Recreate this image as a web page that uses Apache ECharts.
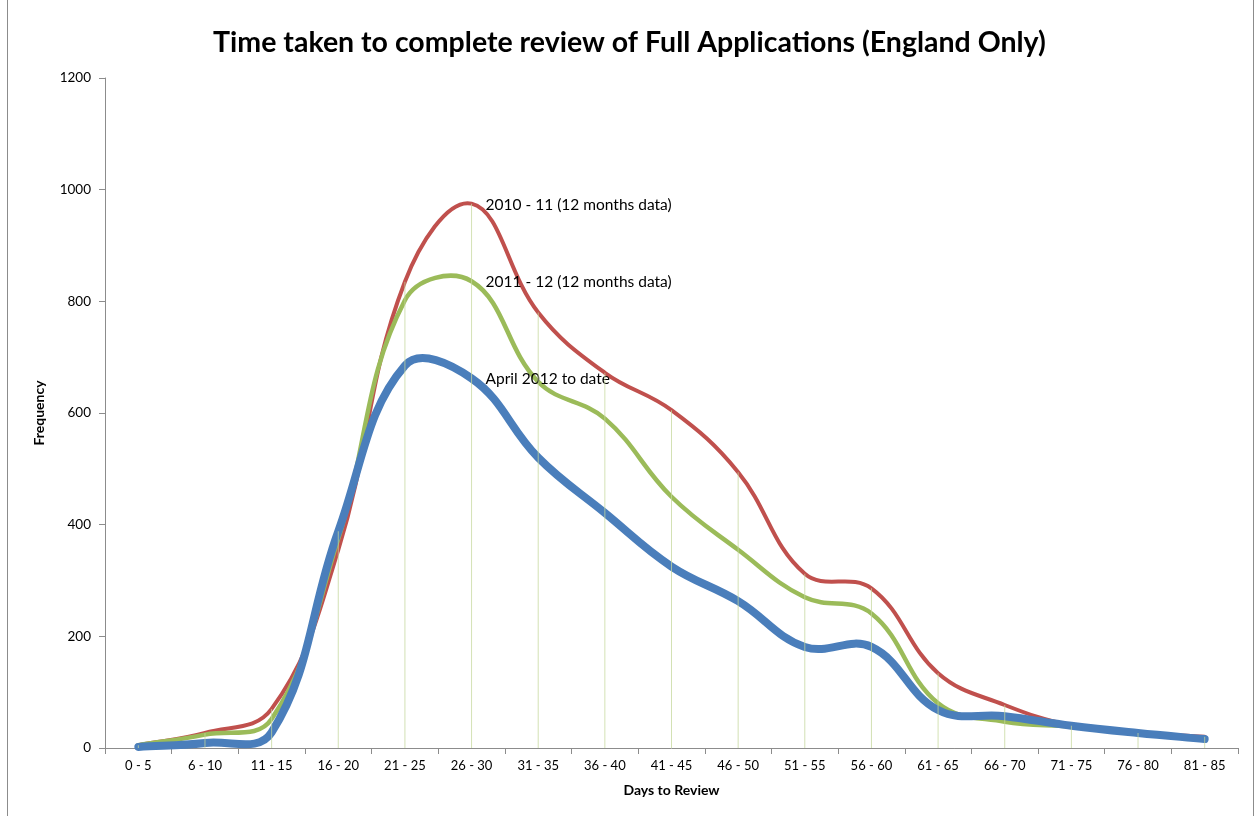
<!DOCTYPE html>
<html>
<head>
<meta charset="utf-8">
<script src="https://cdn.jsdelivr.net/npm/echarts@6/dist/echarts.min.js"></script>
<style>
  html, body { margin: 0; padding: 0; background: #ffffff; }
  #chart { width: 1259px; height: 816px; }
</style>
</head>
<body>
<div id="chart"></div>
<script>
// Review-time bands (days)
const categories = ['0 - 5', '6 - 10', '11 - 15', '16 - 20', '21 - 25', '26 - 30', '31 - 35', '36 - 40',
  '41 - 45', '46 - 50', '51 - 55', '56 - 60', '61 - 65', '66 - 70', '71 - 75', '76 - 80', '81 - 85'];

// Frequency of applications per band
const year2010 = [5, 27, 70, 355, 835, 975, 780, 672, 605, 494, 312, 286, 134, 77, 40, 27, 20];
const year2011 = [5, 24, 52, 375, 802, 836, 656, 590, 450, 355, 270, 241, 80, 47, 38, 26, 17];
const year2012 = [2, 9, 28, 388, 685, 662, 520, 421, 325, 263, 181, 181, 68, 57, 40, 27, 16];

const seriesNames = ['2010 - 11 (12 months data)', '2011 - 12 (12 months data)', 'April 2012 to date'];
const yTicks = [0, 200, 400, 600, 800, 1000, 1200];

// Index of the point that carries each series' name
const labelIndex = 5;

// Drop lines run from the highest series at each band down to the axis
const dropTop = categories.map((_, i) => Math.max(year2010[i], year2011[i], year2012[i]));

const FONT = 'Lato, "Open Sans", sans-serif';

function dist(a, b) {
  return Math.hypot(b[0] - a[0], b[1] - a[1]);
}

// Smoothed line through every point: cubic segments whose tangents are
// scaled by neighbouring chord lengths, so short steps next to steep
// climbs don't overshoot. Points come from the grid's own coordinate conversion.
function smoothSeries(name, values, color, width, z) {
  const tension = 0.4;
  return {
    name: name,
    type: 'custom',
    coordinateSystem: 'cartesian2d',
    data: values.map((v, i) => [i, v]),
    encode: { x: 0, y: 1 },
    z: z,
    silent: true,
    renderItem: function (params, api) {
      const i = params.dataIndex;
      if (i === 0) {
        const pts = values.map((v, k) => api.coord([k, v]));
        const n = pts.length;
        let d = 'M' + pts[0][0] + ' ' + pts[0][1];
        for (let k = 0; k < n - 1; k++) {
          const p0 = pts[Math.max(k - 1, 0)];
          const p1 = pts[k];
          const p2 = pts[k + 1];
          const p3 = pts[Math.min(k + 2, n - 1)];
          const d01 = dist(p0, p1), d12 = dist(p1, p2), d23 = dist(p2, p3);
          const f1 = d01 + d12 > 0 ? tension * d12 / (d01 + d12) : 0;
          const f2 = d12 + d23 > 0 ? tension * d12 / (d12 + d23) : 0;
          const c1x = p1[0] + (p2[0] - p0[0]) * f1;
          const c1y = p1[1] + (p2[1] - p0[1]) * f1;
          const c2x = p2[0] - (p3[0] - p1[0]) * f2;
          const c2y = p2[1] - (p3[1] - p1[1]) * f2;
          d += ' C' + c1x + ' ' + c1y + ' ' + c2x + ' ' + c2y + ' ' + p2[0] + ' ' + p2[1];
        }
        return {
          type: 'path',
          shape: { pathData: d },
          style: { fill: null, stroke: color, lineWidth: width, lineCap: 'round', lineJoin: 'round' }
        };
      }
      if (i === labelIndex) {
        const p = api.coord([i, values[i]]);
        return {
          type: 'text',
          x: p[0] + 14,
          y: p[1] + 1,
          style: {
            text: name,
            fill: '#000000',
            font: '15.5px ' + FONT,
            verticalAlign: 'middle',
            align: 'left'
          }
        };
      }
      return null;
    }
  };
}

const chart = echarts.init(document.getElementById('chart'), null, { renderer: 'canvas' });

chart.setOption({
  animation: false,
  backgroundColor: '#ffffff',
  title: {
    text: 'Time taken to complete review of Full Applications (England Only)',
    left: 'center',
    top: 23,
    textStyle: { fontFamily: FONT, fontSize: 28.5, fontWeight: 'bold', color: '#000000' }
  },
  graphic: [{
    type: 'rect',
    shape: { x: 7.5, y: -10, width: 1246, height: 840 },
    style: { fill: 'none', stroke: '#8c8c8c', lineWidth: 1 },
    silent: true
  }],
  grid: { left: 105, right: 21, top: 78, bottom: 68, containLabel: false },
  xAxis: {
    type: 'category',
    data: categories,
    boundaryGap: true,
    name: 'Days to Review',
    nameLocation: 'middle',
    nameGap: 35,
    nameTextStyle: { fontFamily: FONT, fontSize: 14, fontWeight: 'bold', color: '#000000' },
    axisLine: { lineStyle: { color: '#8c8c8c', width: 1 } },
    axisTick: { show: true, alignWithLabel: false, length: 6, lineStyle: { color: '#8c8c8c' } },
    axisLabel: { fontFamily: FONT, fontSize: 13, color: '#000000', margin: 11, interval: 0 },
    splitLine: { show: false }
  },
  yAxis: {
    type: 'value',
    min: 0,
    max: 1200,
    interval: 200,
    name: 'Frequency',
    nameLocation: 'middle',
    nameGap: 59,
    nameRotate: 90,
    nameTextStyle: { fontFamily: FONT, fontSize: 14, fontWeight: 'bold', color: '#000000' },
    axisLine: { show: true, lineStyle: { color: '#8c8c8c', width: 1 } },
    axisTick: { show: true, length: 6, lineStyle: { color: '#8c8c8c' } },
    axisLabel: {
      fontFamily: FONT, fontSize: 13.5, color: '#000000', margin: 14,
      formatter: v => (yTicks.indexOf(v) >= 0 ? String(v) : '')
    },
    splitLine: { show: false }
  },
  series: [
    smoothSeries(seriesNames[0], year2010, '#c0504d', 4, 3),
    smoothSeries(seriesNames[1], year2011, '#9bbb59', 4.5, 4),
    smoothSeries(seriesNames[2], year2012, '#4a7ebb', 8, 5),
    {
      name: 'drop',
      type: 'bar',
      data: dropTop,
      barWidth: 1,
      z: 6,
      silent: true,
      itemStyle: { color: 'rgba(196, 215, 155, 0.75)' },
      emphasis: { disabled: true }
    }
  ]
});
</script>
</body>
</html>
